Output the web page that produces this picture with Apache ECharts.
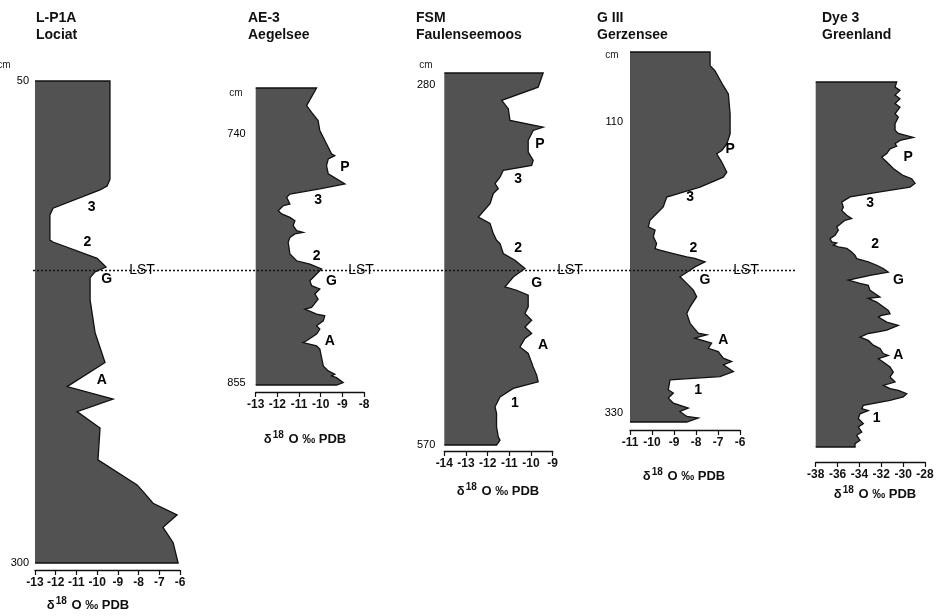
<!DOCTYPE html>
<html>
<head>
<meta charset="utf-8">
<script src="https://cdn.jsdelivr.net/npm/echarts/dist/echarts.min.js"></script>
<style>html,body{margin:0;padding:0;background:#fff}#c{width:936px;height:616px}</style>
</head>
<body>
<div id="c"></div>
<script>
// ---------- DATA ----------
const panelTitles = ['L-P1A\nLociat', 'AE-3\nAegelsee', 'FSM\nFaulenseemoos', 'G III\nGerzensee', 'Dye 3\nGreenland'];

// L-P1A Lociat
const lociatDepth = [50, 101, 104.5, 106.5, 116, 119.5, 132.5, 133.5, 142, 146.5, 149, 152, 163.5, 180.5, 196, 208.5, 215, 221.5, 230, 246.5, 259.5, 263, 269, 275, 281.5, 289.5, 300];
const lociatD18O = [-9.38, -9.38, -9.52, -9.86, -12.13, -12.28, -12.28, -12.13, -10.0, -9.57, -10.1, -10.34, -10.34, -10.1, -9.62, -11.45, -9.23, -10.97, -9.86, -9.96, -8.07, -7.78, -7.3, -6.14, -6.82, -6.33, -6.09];

// AE-3 Aegelsee
const aegelDepth = [719, 727.1, 730.2, 734, 738.6, 746.3, 749.4, 750.2, 751.7, 754.8, 758.6, 763.2, 765.5, 767.9, 769.4, 772.5, 773.3, 775.6, 777.1, 778.7, 780.2, 782.5, 784.8, 785.6, 786.3, 787.9, 790.2, 795.6, 798.7, 800.2, 802.5, 804.8, 807.9, 810.2, 811.7, 814, 816.4, 820.2, 821, 823.3, 824.1, 826.4, 828.7, 830.2, 832.5, 835.6, 836.4, 837.9, 839.4, 847.2, 849.5, 851, 851.8, 852.6, 854.9, 856];
const aegelD18O = [-10.19, -10.65, -10.42, -10.12, -10.04, -9.65, -9.5, -9.35, -9.65, -9.73, -9.65, -8.88, -10.04, -11.42, -11.57, -11.42, -11.73, -11.96, -11.8, -11.42, -11.19, -11.27, -11.11, -10.81, -11.19, -11.42, -11.5, -11.42, -11.11, -10.5, -9.96, -10.19, -10.5, -10.42, -10.04, -10.27, -10.12, -10.42, -10.73, -10.19, -9.81, -9.88, -10.19, -10.04, -10.19, -10.65, -10.81, -10.19, -10.04, -9.88, -9.65, -9.35, -9.5, -9.27, -8.96, -9.27];

// FSM Faulenseemoos
const fsmDepth = [270, 281.4, 292.1, 298.8, 308.2, 313.6, 316.3, 324.3, 333.7, 340.4, 344.5, 348.5, 353.9, 359.2, 363.2, 367.3, 375.3, 386.1, 391.4, 399.5, 404.9, 407.6, 415.6, 421, 427.7, 434.5, 442.5, 445.2, 449.2, 458.6, 464, 469.4, 474.8, 480.1, 484.1, 490.9, 496.2, 507, 513.7, 519.1, 524.4, 531.2, 539.2, 544.5, 555.3, 563.4, 566.1, 570];
const fsmD18O = [-9.44, -9.67, -11.35, -11.05, -10.97, -9.44, -9.9, -10.13, -10.13, -9.9, -9.97, -11.28, -11.43, -11.66, -11.51, -11.74, -11.89, -12.43, -11.89, -11.74, -11.59, -11.43, -11.28, -10.74, -10.28, -10.82, -11.2, -10.66, -10.13, -10.13, -10.28, -9.97, -10.28, -9.97, -10.28, -10.51, -10.13, -9.9, -9.74, -9.67, -10.82, -11.43, -11.66, -11.59, -11.59, -11.51, -11.43, -11.59];

// G III Gerzensee
const gerzDepth = [57, 67.4, 71.1, 82.5, 88.7, 103.8, 118.9, 126.5, 131.5, 134, 140.3, 147.9, 151.7, 159.2, 163, 166.8, 174.3, 184.3, 189.4, 191.7, 196.9, 201.9, 205.7, 207, 209.5, 212, 213.2, 215.8, 219.6, 222.1, 227.1, 232.1, 237.2, 242.2, 249.8, 254.8, 262.3, 269.8, 271.1, 272.4, 273.6, 277.4, 281.2, 283.7, 288.7, 291.3, 293.8, 298.8, 302.6, 305.1, 312.6, 315.1, 318.9, 322.7, 326.5, 329, 332.8, 334, 337];
const gerzD18O = [-7.36, -7.36, -7.14, -6.76, -6.53, -6.45, -6.45, -6.6, -6.83, -7.06, -6.83, -6.6, -6.76, -7.82, -8.58, -9.33, -9.49, -10.09, -10.17, -9.86, -9.94, -9.79, -9.86, -9.64, -9.03, -8.42, -8.05, -7.59, -8.05, -8.27, -8.73, -8.42, -8.12, -7.97, -8.27, -8.42, -8.27, -7.9, -7.51, -7.82, -8.05, -7.29, -7.44, -6.99, -6.76, -6.38, -6.76, -6.3, -6.91, -9.18, -9.26, -9.03, -9.26, -9.03, -8.35, -8.73, -8.42, -7.9, -8.42];

// Dye 3 Greenland (relative depth, no scale shown)
const dyeDepth = [0, 1.4, 2.3, 3.6, 4.6, 5.9, 6.9, 8.7, 9.6, 11.4, 13.2, 14.1, 15.2, 16, 16.9, 17.6, 18.3, 19.6, 20.6, 21.9, 23.7, 25.6, 26.5, 27.8, 28.8, 30.1, 31.5, 32.9, 34.3, 35.2, 36.5, 37.4, 37.9, 39.7, 40.6, 42, 42.9, 43.8, 44.1, 44.7, 45.2, 45.6, 46.6, 47.5, 48.4, 49.3, 50.2, 51.1, 52.1, 52.5, 53, 53.4, 54.3, 55.2, 55.7, 57.1, 58.9, 59.3, 60.3, 61.6, 62.6, 63.5, 63.9, 64.4, 65.8, 66.7, 68, 68.5, 68.9, 69.9, 70.8, 72.1, 73, 74.4, 74.9, 75.8, 76.7, 78.1, 79.5, 80.8, 82.2, 83.1, 84, 84.5, 85.4, 86.3, 87.2, 88.6, 89.5, 90, 90.9, 92.2, 93.6, 94.5, 95.9, 96.8, 98.2, 99.1, 100];
const dyeD18O = [-30.59, -30.74, -30.29, -30.74, -30.29, -30.74, -30.29, -30.74, -30.44, -30.74, -30.74, -30.44, -29.07, -30.29, -30.74, -30.59, -31.2, -31.5, -31.96, -31.5, -30.9, -30.01, -29.22, -28.91, -29.37, -32.12, -34.86, -35.62, -35.47, -35.62, -35.16, -34.71, -35.32, -36.08, -35.93, -36.23, -36.69, -36.54, -36.08, -36.39, -35.93, -35.16, -34.71, -34.4, -34.25, -33.19, -32.42, -31.82, -31.36, -32.12, -33.03, -33.64, -35.02, -33.95, -33.19, -33.03, -32.12, -33.19, -32.42, -31.82, -31.36, -31.2, -31.96, -32.27, -31.5, -30.44, -31.5, -32.42, -33.19, -33.95, -33.19, -32.73, -32.12, -31.82, -31.36, -32.27, -31.82, -31.2, -30.9, -31.2, -30.74, -31.82, -31.2, -30.44, -29.67, -29.99, -31.2, -33.64, -33.79, -33.19, -33.95, -34.1, -33.64, -34.1, -33.79, -34.25, -33.95, -34.4, -34.4];

// axis ranges / tick labels
const xMins = [-13, -13, -14, -11, -38];
const xMaxs = [-6, -8, -9, -6, -28];
const xSteps = [1, 1, 1, 1, 2];
const depthMins = [50, 719, 270, 57, 0];
const depthMaxs = [300, 856, 570, 337, 100];
const depthTickLabels = [[50, 300], [740, 855], [280, 570], [110, 330], []];

// zone labels [text, d18O, depth]
const lociatMarks = [['3', -10.26, 115.2], ['2', -10.47, 133.4], ['G', -9.54, 152.7], ['A', -9.78, 205.1]];
const aegelMarks = [['P', -8.88, 755.6], ['3', -10.12, 770.9], ['2', -10.19, 796.4], ['G', -9.5, 807.9], ['A', -9.58, 835.6]];
const fsmMarks = [['P', -9.59, 327], ['3', -10.59, 355.2], ['2', -10.59, 411.6], ['G', -9.74, 439.8], ['A', -9.44, 489.5], ['1', -10.74, 536.5]];
const gerzMarks = [['P', -6.45, 130.2], ['3', -8.27, 166.8], ['2', -8.12, 205.7], ['G', -7.59, 229.6], ['A', -6.76, 274.9], ['1', -7.9, 312.6]];
const dyeMarks = [['P', -29.53, 20.55], ['3', -33.03, 33.3], ['2', -32.57, 44.3], ['G', -30.44, 54.3], ['A', -30.44, 74.9], ['1', -32.42, 92.2]];

const lstLabel = 'LST';
const depthUnit = 'cm';

// ---------- LAYOUT ----------
const FONT = '"Liberation Sans", Arial, Helvetica, sans-serif';
const layout = [
  { left: 35, top: 81, width: 145, height: 482, axisOffset: 7, yMargin: 6, titleX: 36, cm: [4, 65], delta: [88, 604], lst: 142 },
  { left: 255.7, top: 88, width: 108.3, height: 297, axisOffset: 7, yMargin: 10, titleX: 248, cm: [236, 93], delta: [305, 438], lst: 361 },
  { left: 444.3, top: 73, width: 108.4, height: 372, axisOffset: 6, yMargin: 9, titleX: 416, cm: [426, 65], delta: [498, 490], lst: 570 },
  { left: 630, top: 52, width: 110, height: 370, axisOffset: 8, yMargin: 7, titleX: 597, cm: [612, 55], delta: [684, 475], lst: 746 },
  { left: 815.7, top: 82, width: 109.3, height: 365, axisOffset: 15, yMargin: 7, titleX: 822, cm: null, delta: [875, 493], lst: null }
];

const depths = [lociatDepth, aegelDepth, fsmDepth, gerzDepth, dyeDepth];
const values = [lociatD18O, aegelD18O, fsmD18O, gerzD18O, dyeD18O];
const marks = [lociatMarks, aegelMarks, fsmMarks, gerzMarks, dyeMarks];

function areaSeries(i) {
  const pts = values[i].map((v, k) => [v, depths[i][k]]);
  const xmin = xMins[i];
  return {
    type: 'custom', xAxisIndex: i, yAxisIndex: i, data: pts, silent: true, clip: false, z: 2,
    renderItem(params, api) {
      if (params.dataIndex !== 0) return null;
      const line = pts.map(p => api.coord(p));
      const start = api.coord([xmin, pts[0][1]]);
      const end = api.coord([xmin, pts[pts.length - 1][1]]);
      const poly = [start].concat(line, [end]);
      return {
        type: 'group',
        children: [
          { type: 'polygon', shape: { points: poly }, style: { fill: '#525252', stroke: null } },
          { type: 'polyline', shape: { points: poly }, style: { fill: null, stroke: '#111', lineWidth: 1.3, lineJoin: 'miter' } }
        ]
      };
    }
  };
}

function markSeries(i) {
  return {
    type: 'scatter', xAxisIndex: i, yAxisIndex: i, silent: true, z: 5,
    symbolSize: 1, itemStyle: { color: 'rgba(0,0,0,0)', opacity: 1 },
    data: marks[i].map(m => ({ value: [m[1], m[2]], name: m[0] })),
    label: { show: true, position: 'inside', formatter: p => p.name, fontSize: 14, fontWeight: 'bold', color: '#000', opacity: 1, fontFamily: FONT }
  };
}

const graphic = [];
layout.forEach((L, i) => {
  graphic.push({
    type: 'text', x: L.delta[0], y: L.delta[1], z: 10,
    style: {
      text: '{a|δ}{s|18}{a| O ‰ PDB}', x: 0, y: 0, align: 'center', verticalAlign: 'middle',
      rich: {
        a: { fontSize: 13, fontWeight: 'bold', fontFamily: FONT, fill: '#111', verticalAlign: 'bottom' },
        s: { fontSize: 10, fontWeight: 'bold', fontFamily: FONT, fill: '#111', verticalAlign: 'top', padding: [0, 1, 6, 1] }
      }
    }
  });
  if (L.cm) {
    graphic.push({ type: 'text', x: L.cm[0], y: L.cm[1], z: 10,
      style: { text: depthUnit, align: 'center', verticalAlign: 'middle', fontSize: 10, fontFamily: FONT, fill: '#222' } });
  }
  if (L.lst) {
    graphic.push({ type: 'text', x: L.lst, y: 270.5, z: 10,
      style: { text: lstLabel, align: 'center', verticalAlign: 'middle', fontSize: 14, fontFamily: FONT, fill: '#000' } });
  }
});
graphic.push({ type: 'line', z: 20, shape: { x1: 33, y1: 270.5, x2: 797, y2: 270.5 },
  style: { stroke: '#111', lineWidth: 1.4, lineDash: [2, 2] } });

const option = {
  animation: false,
  backgroundColor: '#ffffff',
  title: layout.map((L, i) => ({
    text: panelTitles[i], left: L.titleX, top: 10, padding: 0,
    textStyle: { fontSize: 14, fontWeight: 'bold', color: '#111', lineHeight: 17, fontFamily: FONT }
  })),
  grid: layout.map(L => ({ left: L.left, top: L.top, width: L.width, height: L.height, containLabel: false, outerBoundsMode: 'none' })),
  xAxis: layout.map((L, i) => ({
    gridIndex: i, type: 'value', min: xMins[i], max: xMaxs[i], interval: xSteps[i], offset: L.axisOffset,
    axisLine: { show: true, onZero: false, lineStyle: { color: '#111', width: 1.3 } },
    axisTick: { show: true, length: 5, lineStyle: { color: '#111', width: 1.2 } },
    axisLabel: { fontSize: 12, fontWeight: 'bold', color: '#111', margin: 7, fontFamily: FONT },
    splitLine: { show: false }
  })),
  yAxis: layout.map((L, i) => ({
    gridIndex: i, type: 'value', inverse: true, min: depthMins[i], max: depthMaxs[i],
    axisLine: { show: false }, axisTick: { show: false }, splitLine: { show: false },
    axisLabel: {
      show: depthTickLabels[i].length > 0, customValues: depthTickLabels[i],
      fontSize: 11, color: '#000', margin: L.yMargin, fontFamily: FONT
    }
  })),
  series: layout.map((L, i) => areaSeries(i)).concat(layout.map((L, i) => markSeries(i))),
  graphic: graphic
};

const chart = echarts.init(document.getElementById('c'), null, { renderer: 'canvas' });
chart.setOption(option);
</script>
</body>
</html>
